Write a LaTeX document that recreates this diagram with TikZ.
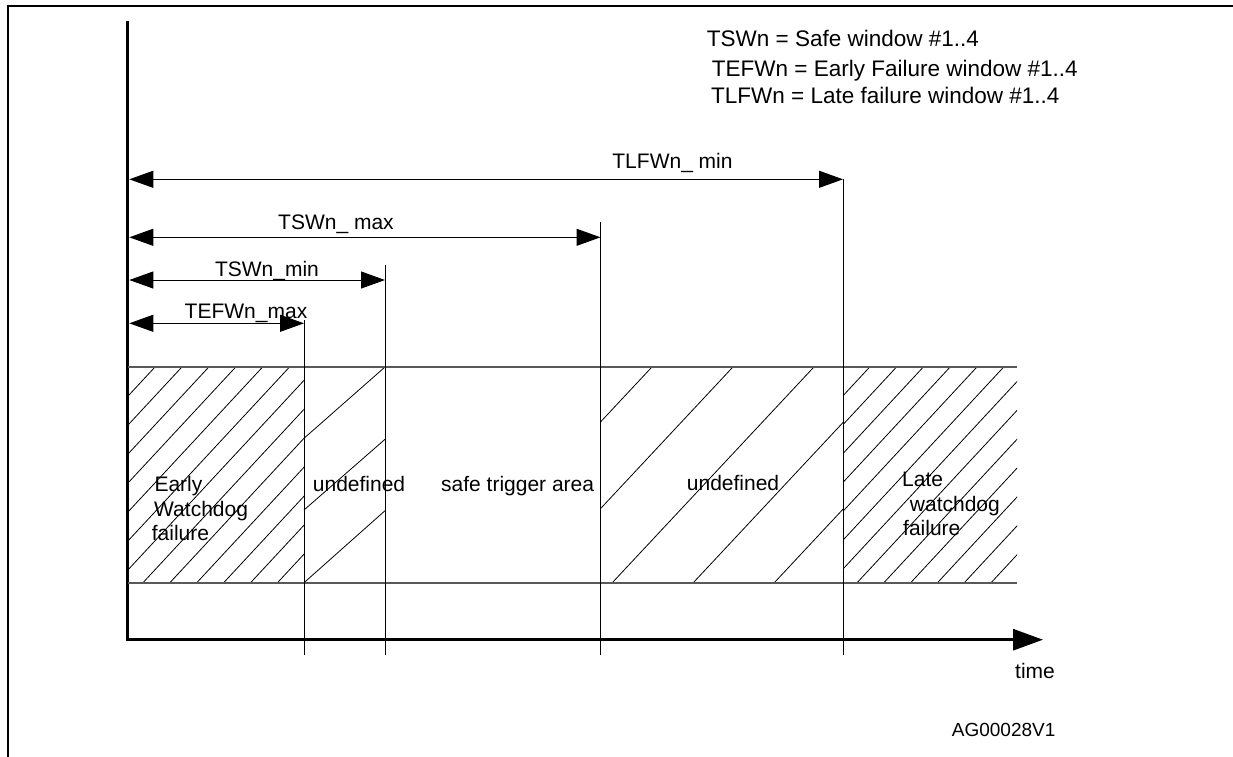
\documentclass[tikz,border=0pt]{standalone}
\usepackage{fontspec}
\setmainfont{Liberation Sans}
\usetikzlibrary{arrows.meta}
\begin{document}
\begin{tikzpicture}[x=1pt,y=-1pt,
  lbl/.style={inner sep=0pt, font=\fontsize{21}{25}\selectfont},
  legendlbl/.style={inner sep=0pt, font=\fontsize{22.5}{27}\selectfont},
  smalllbl/.style={inner sep=0pt, font=\fontsize{19}{23}\selectfont},
  dimarrow/.style={line width=1pt, {Triangle[length=24pt,width=17pt]}-{Triangle[length=24pt,width=17pt]}},
  axisline/.style={line width=3pt, line join=miter, -{Triangle[length=30pt,width=21pt]}},
  markline/.style={line width=0.9pt},
  bandline/.style={line width=1.2pt, black!65},
  hatchline/.style={line width=0.8pt},
  framestyle/.style={line width=2.5pt}]
\useasboundingbox (0,0) rectangle (1233,756);

% outer frame (top and left visible)
\coordinate (FB) at (8,757);
\coordinate (FC) at (8,6.2);
\coordinate (FR) at (1234,6.2);
\draw[framestyle] (FB) -- (FC) -- (FR);

% axes
\coordinate (Ytop) at (127.5,21);
\coordinate (O) at (127.5,639.7);
\coordinate (Xend) at (1043,639.7);
\draw[axisline] (Ytop) -- (O) -- (Xend);

% band
\coordinate (TL) at (127.5,367);
\coordinate (TR) at (1017,367);
\coordinate (BL) at (127.5,583);
\coordinate (BR) at (1017,583);

% hatching: early watchdog failure
\begin{scope}
  \clip (129,367) rectangle (304,583);
  \foreach \k in {-9,...,7}
    \draw[hatchline] ({142.7+26.9*\k},583) -- ({142.7+26.9*\k+200.6},367);
\end{scope}
% hatching: first undefined
\draw[hatchline] (304,438.3) -- (385,367);
\draw[hatchline] (304,510) -- (385,439.3);
\draw[hatchline] (304,582.7) -- (385,510.7);
% hatching: second undefined
\begin{scope}
  \clip (600,367) rectangle (843,583);
  \foreach \k in {-3,...,2}
    \draw[hatchline] ({612+81*\k},583) -- ({612+81*\k+201.9},367);
\end{scope}
% hatching: late watchdog failure
\begin{scope}
  \clip (843,367) rectangle (1017,583);
  \foreach \k in {-1,...,14}
    \draw[hatchline] ({869.7+26.8*\k-200.5},583) -- ({869.7+26.8*\k},367);
\end{scope}

\draw[bandline] (TL) -- (TR);
\draw[bandline] (BL) -- (BR);

% time markers
\coordinate (m1t) at (304,320);   \coordinate (m1b) at (304,655);
\coordinate (m2t) at (385,265);   \coordinate (m2b) at (385,655);
\coordinate (m3t) at (600.5,222); \coordinate (m3b) at (600.5,655);
\coordinate (m4t) at (843,179);   \coordinate (m4b) at (843,655);
\draw[markline] (m1t) -- (m1b);
\draw[markline] (m2t) -- (m2b);
\draw[markline] (m3t) -- (m3b);
\draw[markline] (m4t) -- (m4b);

% dimension arrows
\coordinate (d4s) at (129.3,179.3); \coordinate (d4e) at (843,179.3);
\coordinate (d3s) at (129.3,237.3); \coordinate (d3e) at (600.5,237.3);
\coordinate (d2s) at (129.3,280);   \coordinate (d2e) at (385,280);
\coordinate (d1s) at (129.3,323.3); \coordinate (d1e) at (304,323.3);
\draw[dimarrow] (d4s) -- (d4e);
\draw[dimarrow] (d3s) -- (d3e);
\draw[dimarrow] (d2s) -- (d2e);
\draw[dimarrow] (d1s) -- (d1e);

% dimension labels
\node[lbl, anchor=base] (l4) at (672.5,168.3) {TLFWn\_ min};
\node[lbl, anchor=base] (l3) at (336,229.3) {TSWn\_ max};
\node[lbl, anchor=base] (l2) at (267,276) {TSWn\_min};
\node[lbl, anchor=base] (l1) at (246,318.3) {TEFWn\_max};

% legend
\node[legendlbl, anchor=base west] (lg1) at (706.7,46.5) {TSWn = Safe window \#1..4};
\node[legendlbl, anchor=base west] (lg2) at (711.7,76.5) {TEFWn = Early Failure window \#1..4};
\node[legendlbl, anchor=base west] (lg3) at (711,103) {TLFWn = Late failure window \#1..4};

% region labels
\node[lbl, anchor=base west] (e1) at (154.3,491) {Early};
\node[lbl, anchor=base west] (e2) at (154,516) {Watchdog};
\node[lbl, anchor=base west] (e3) at (151.7,540) {failure};
\node[lbl, anchor=base west] (u1) at (312.7,491.7) {undefined};
\node[lbl, anchor=base west] (sa) at (441,491.7) {safe trigger area};
\node[lbl, anchor=base west] (u2) at (686.7,490) {undefined};
\node[lbl, anchor=base west] (la1) at (902,486) {Late};
\node[lbl, anchor=base west] (la2) at (909.7,511.7) {watchdog};
\node[lbl, anchor=base west] (la3) at (903,535) {failure};

% axis label and figure id
\node[lbl, anchor=base west] (tm) at (1015,678.3) {time};
\node[smalllbl, anchor=base west] (id) at (951.7,736.7) {AG00028V1};
\end{tikzpicture}
\end{document}
